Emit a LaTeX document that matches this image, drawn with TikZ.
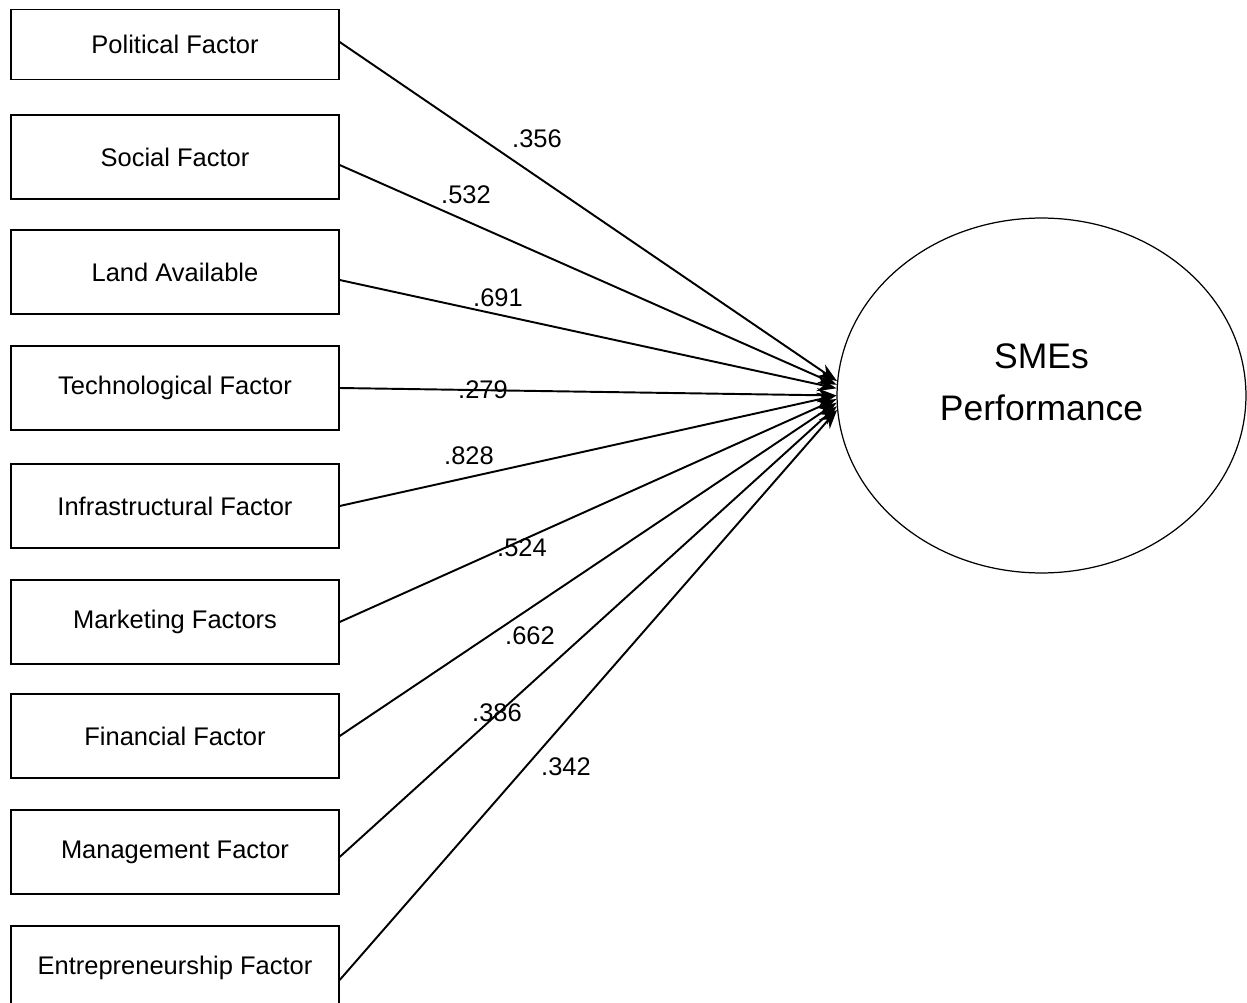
\documentclass[tikz,border=0pt]{standalone}
\usepackage{fontspec}
\setmainfont{Liberation Sans}
\usetikzlibrary{shapes.geometric,arrows.meta}
\begin{document}
\begin{tikzpicture}[
            x=0.02cm, y=-0.02cm,
            fBox/.style={draw=black, rectangle, line width=0.8pt, minimum width=6.56cm, minimum height=1.68cm, font=\fontsize{14.5}{17}\selectfont},
            pLine/.style={line width=1.1pt, -{Stealth[length=11pt, width=8pt]}},
            wLabel/.style={font=\fontsize{14.5}{17}\selectfont, inner sep=0pt}
        ]
        \useasboundingbox (0,0) rectangle (1247,1003);

        \node [fBox, minimum height=1.4cm] (pol) at (175,44.5) {Political Factor};
        \node [fBox] (soc) at (175,157) {Social Factor};
        \node [fBox] (land) at (175,272) {Land Available};
        \node [fBox] (tech) at (175,388) {Technological Factor};
        \node [fBox] (infra) at (175,506) {Infrastructural Factor};
        \node [fBox] (mkt) at (175,622) {Marketing Factors};
        \node [fBox] (fin) at (175,736) {Financial Factor};
        \node [fBox] (mgt) at (175,852) {Management Factor};
        \node [fBox] (ent) at (175,968) {Entrepreneurship Factor};

        \node [draw=black, ellipse, line width=0.7pt, minimum width=8.18cm, minimum height=7.1cm, align=center, text depth=0.52cm, font=\fontsize{20.2}{29.5}\selectfont] (sme) at (1041.5,395.5) {SMEs\\Performance};

        \draw [pLine] ([yshift=0.05cm]pol.east) -- (sme.176.5);
        \draw [pLine] ([yshift=-0.16cm]soc.east) -- (sme.177.5);
        \draw [pLine] ([yshift=-0.16cm]land.east) -- (sme.178.5);
        \draw [pLine] (tech.east) -- (sme.180);
        \draw [pLine] (infra.east) -- (sme.180.5);
        \draw [pLine] (mkt.east) -- (sme.181.5);
        \draw [pLine] (fin.east) -- (sme.182);
        \draw [pLine] ([yshift=-0.1cm]mgt.east) -- (sme.183);
        \draw [pLine] ([yshift=-0.24cm]ent.east) -- (sme.184);

        \node [wLabel] (w356) at (537,139) {.356};
        \node [wLabel] (w532) at (466,195) {.532};
        \node [wLabel] (w691) at (498,298) {.691};
        \node [wLabel] (w279) at (483,390) {.279};
        \node [wLabel] (w828) at (469,456) {.828};
        \node [wLabel] (w524) at (522,548) {.524};
        \node [wLabel] (w662) at (530,636) {.662};
        \node [wLabel] (w386) at (497,713) {.386};
        \node [wLabel] (w342) at (566,767) {.342};

    \end{tikzpicture}
\end{document}
